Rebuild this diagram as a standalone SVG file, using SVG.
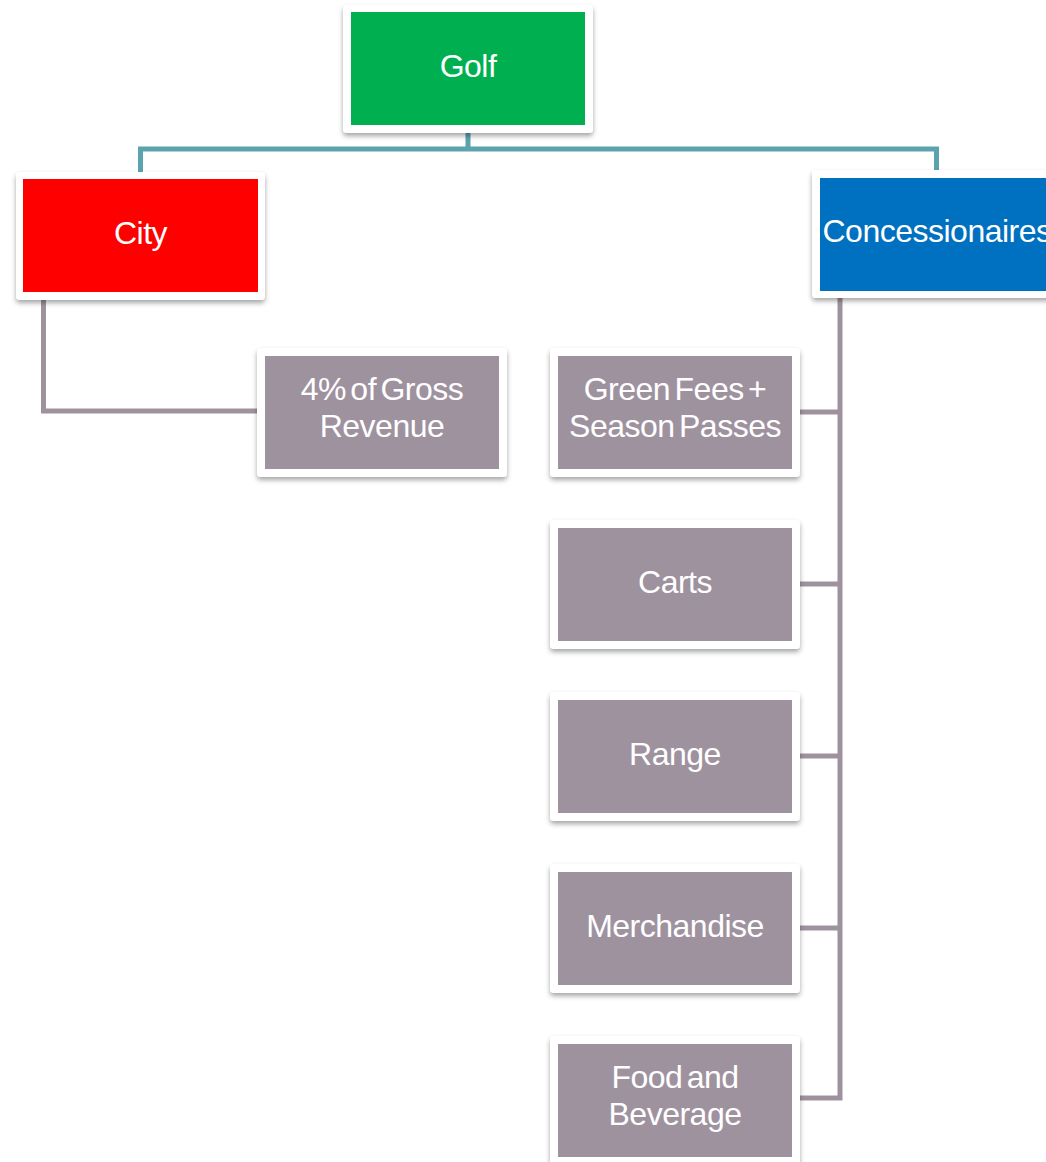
<svg xmlns="http://www.w3.org/2000/svg" width="1046" height="1162" viewBox="0 0 1046 1162">
  <defs>
    <filter id="sh" x="-10%" y="-10%" width="120%" height="125%">
      <feDropShadow dx="0" dy="3" stdDeviation="2.5" flood-color="#000" flood-opacity="0.35"/>
    </filter>
    <style>
      .frame { fill: #ffffff; filter: url(#sh); }
      .lbl { font-family: "Liberation Sans", Arial, sans-serif; font-size: 32px; fill: #ffffff; text-anchor: middle; letter-spacing: -0.5px; word-spacing: -4px; }
      .sub { fill: #9f929f; }
      .teal { fill: none; stroke: #5aa3af; stroke-width: 5; }
      .purp { fill: none; stroke: #9f929f; stroke-width: 5; }
    </style>
  </defs>
  <rect width="1046" height="1162" fill="#ffffff"/>

  <g id="connectors">
    <path class="teal" d="M468,130 V149 M140.5,149 H936.5 M140.5,146.5 V174 M936.5,146.5 V172"/>
    <path class="purp" d="M43.5,298 V411 H260"/>
    <path class="purp" d="M840,296 V1098 H796 M796,412 H840 M796,584 H840 M796,756 H840 M796,928 H840"/>
  </g>

  <g id="golf">
    <rect class="frame" x="343" y="5" width="250" height="128" rx="4"/>
    <rect x="351" y="12" width="234" height="113" fill="#00af50"/>
    <text class="lbl" x="468" y="77">Golf</text>
  </g>

  <g id="city">
    <rect class="frame" x="16" y="172" width="249" height="128" rx="4"/>
    <rect x="23" y="179" width="235" height="113" fill="#ff0000"/>
    <text class="lbl" x="140.5" y="244">City</text>
  </g>

  <g id="concessionaires">
    <rect class="frame" x="812" y="170" width="251" height="128" rx="4"/>
    <rect x="820" y="178" width="235" height="113" fill="#0070c0"/>
    <text class="lbl" x="937" y="242">Concessionaires</text>
  </g>

  <g id="gross-revenue">
    <rect class="frame" x="257" y="348" width="250" height="129" rx="4"/>
    <rect class="sub" x="265" y="356" width="234" height="113"/>
    <text class="lbl" x="382" y="400">4% of Gross</text>
    <text class="lbl" x="382" y="437">Revenue</text>
  </g>

  <g id="green-fees">
    <rect class="frame" x="550" y="348" width="250" height="129" rx="4"/>
    <rect class="sub" x="558" y="356" width="234" height="113"/>
    <text class="lbl" x="675" y="400">Green Fees +</text>
    <text class="lbl" x="675" y="437">Season Passes</text>
  </g>

  <g id="carts">
    <rect class="frame" x="550" y="520" width="250" height="129" rx="4"/>
    <rect class="sub" x="558" y="528" width="234" height="113"/>
    <text class="lbl" x="675" y="593">Carts</text>
  </g>

  <g id="range">
    <rect class="frame" x="550" y="692" width="250" height="129" rx="4"/>
    <rect class="sub" x="558" y="700" width="234" height="113"/>
    <text class="lbl" x="675" y="765">Range</text>
  </g>

  <g id="merchandise">
    <rect class="frame" x="550" y="864" width="250" height="129" rx="4"/>
    <rect class="sub" x="558" y="872" width="234" height="113"/>
    <text class="lbl" x="675" y="937">Merchandise</text>
  </g>

  <g id="food-beverage">
    <rect class="frame" x="550" y="1036" width="250" height="129" rx="4"/>
    <rect class="sub" x="558" y="1044" width="234" height="113"/>
    <text class="lbl" x="675" y="1088">Food and</text>
    <text class="lbl" x="675" y="1125">Beverage</text>
  </g>
</svg>
